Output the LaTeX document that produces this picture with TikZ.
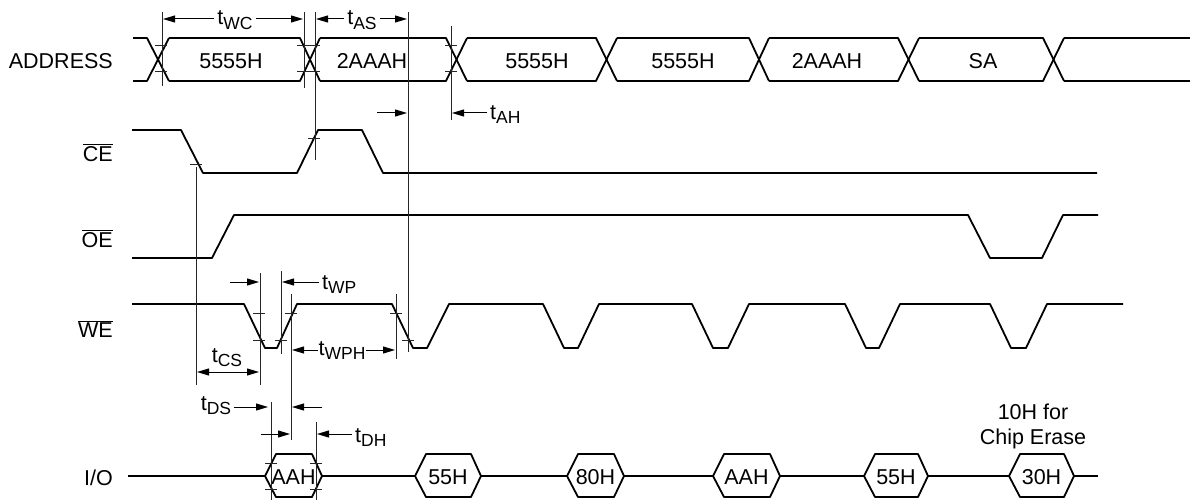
\documentclass[tikz,border=0pt]{standalone}
\usepackage{fontspec}
\setmainfont{Liberation Sans}
\usetikzlibrary{arrows.meta}
\newcommand{\tlabel}[1]{t\raisebox{-4.5pt}{\fontsize{17.5}{17.5}\selectfont #1}}
\newcommand{\barlabel}[1]{$\overline{\mbox{#1}}$}
\tikzset{
    sig/.style={line width=1.8pt, line join=round},
    guide/.style={line width=1pt, black!85},
    dimline/.style={line width=1pt, -{Stealth[length=12pt,width=7pt,inset=0pt]}},
    dimboth/.style={line width=1pt, {Stealth[length=12pt,width=7pt,inset=0pt]}-{Stealth[length=12pt,width=7pt,inset=0pt]}},
    txt/.style={anchor=base, inner sep=0pt, font=\fontsize{21.5}{24}\selectfont},
    tim/.style={txt, inner sep=3pt},
    rowname/.style={txt, anchor=base east},
}
\begin{document}
\begin{tikzpicture}[x=1pt, y=-1pt]
        \useasboundingbox (0,0) rectangle (1190,500);

        \node[rowname] at (113,69)   (address) {ADDRESS};
        \node[rowname] at (113,161)  (ce) {\barlabel{CE}};
        \node[rowname] at (113,247)  (oe) {\barlabel{OE}};
        \node[rowname] at (113,337)  (we) {\barlabel{WE}};
        \node[rowname] at (113,485)  (io) {I/O};

        % address bus
        \foreach \a/\b [remember=\b as \p (initially 133)] in {147/169, 300/320, 446/467, 596/617, 749/769, 898/919, 1043/1064} {
            \draw[sig] (\p,38) -- (\a,38) -- (\b,81);
            \draw[sig] (\p,81) -- (\a,81) -- (\b,38);
        }
        \draw[sig] (1064,38) -- (1190,38);
        \draw[sig] (1064,81) -- (1190,81);
        \foreach \x/\t [count=\i] in {231/5555H, 372/2AAAH, 537/5555H, 683/5555H, 827/2AAAH, 983/SA} {
            \node[txt] at (\x,69) (addr\i) {\t};
        }

        % control lines
        \draw[sig] (132,130) -- (181,130) -- (203,173) -- (297,173) -- (318,130) -- (362,130) -- (383,173) -- (1097,173);
        \draw[sig] (132,258) -- (212,258) -- (234,215) -- (968,215) -- (990,258) -- (1042,258) -- (1063,215) -- (1098,215);
        \draw[sig] (132,304) -- (244,304) -- (265,348) -- (277,348) -- (297,304)
            -- (392,304) -- (413,348) -- (427,348) -- (449,304)
            -- (543,304) -- (564,348) -- (578,348) -- (599,304)
            -- (692,304) -- (713,348) -- (728,348) -- (749,304)
            -- (845,304) -- (866,348) -- (879,348) -- (900,304)
            -- (990,304) -- (1011,348) -- (1026,348) -- (1047,304) -- (1123,304);

        % data bus
        \draw[sig] (128,476) -- (1098,476);
        \foreach \l/\r/\t [count=\i] in {265/322/AAH, 415/481/55H, 567/624/80H, 713/780/AAH, 864/928/55H, 1009/1074/30H} {
            \draw[sig, fill=white] (\l,476) -- (\l+11,454) -- (\r-10,454) -- (\r,476) -- (\r-10,497) -- (\l+11,497) -- cycle;
            \node[txt] at ({(\l+\r)/2},484) (data\i) {\t};
        }
        \node[txt, align=center, anchor=center] at (1033,426) (erase) {10H for\\[1pt]Chip Erase};

        % reference lines
        \draw[guide] (162,12) -- (162,86);
        \draw[guide] (304,12) -- (304,88);
        \draw[guide] (315,12) -- (315,160);
        \draw[guide] (408,12) -- (408,352);
        \draw[guide] (451,26) -- (451,120);
        \draw[guide] (196,167) -- (196,385);
        \draw[guide] (260,273) -- (260,385);
        \draw[guide] (281,271) -- (281,354);
        \draw[guide] (291,294) -- (291,440);
        \draw[guide] (396,294) -- (396,359);
        \draw[guide] (271,402) -- (271,500);
        \draw[guide] (316,422) -- (316,500);

        % ticks
        \foreach \x/\y in {155/46, 155/72, 297/46, 297/72, 308/46, 308/72, 445/46, 445/72, 308/138, 190/164,
                           253/313, 285/313, 390/313, 253/340, 275/340, 402/340, 265/463, 265/489, 310/463, 310/489} {
            \draw[guide] (\x,\y) -- (\x+12,\y);
        }

        % timing labels
        \node[tim] at (235,25)  (twc) {\tlabel{WC}};
        \node[tim] at (362,25)  (tas) {\tlabel{AS}};
        \node[tim, anchor=base west] at (487,119) (tah) {\tlabel{AH}};
        \node[tim, anchor=base west] at (319,289) (twp) {\tlabel{WP}};
        \node[txt] at (342,355) (twph) {\tlabel{WPH}};
        \node[tim] at (227,362) (tcs) {\tlabel{CS}};
        \node[tim] at (216,410) (tds) {\tlabel{DS}};
        \node[tim, anchor=base west] at (352,442) (tdh) {\tlabel{DH}};

        \draw[dimline] (twc.west |- 0,19) -- (163,19);
        \draw[dimline] (twc.east |- 0,19) -- (303,19);
        \draw[dimline] (tas.west |- 0,19) -- (316,19);
        \draw[dimline] (tas.east |- 0,19) -- (407,19);
        \draw[dimline] (377,113) -- (407,113);
        \draw[dimline] (tah.west |- 0,113) -- (452,113);
        \draw[dimline] (230,282) -- (259,282);
        \draw[dimline] (twp.west |- 0,282) -- (282,282);
        \draw[dimline] (twph.west |- 0,350) -- (292,350);
        \draw[dimline] (twph.east |- 0,350) -- (395,350);
        \draw[dimboth] (197,372) -- (259,372);
        \draw[dimline] (tds.east |- 0,407) -- (268,407);
        \draw[dimline] (322,407) -- (292,407);
        \draw[dimline] (261,434) -- (290,434);
        \draw[dimline] (tdh.west |- 0,434) -- (317,434);
\end{tikzpicture}
\end{document}
